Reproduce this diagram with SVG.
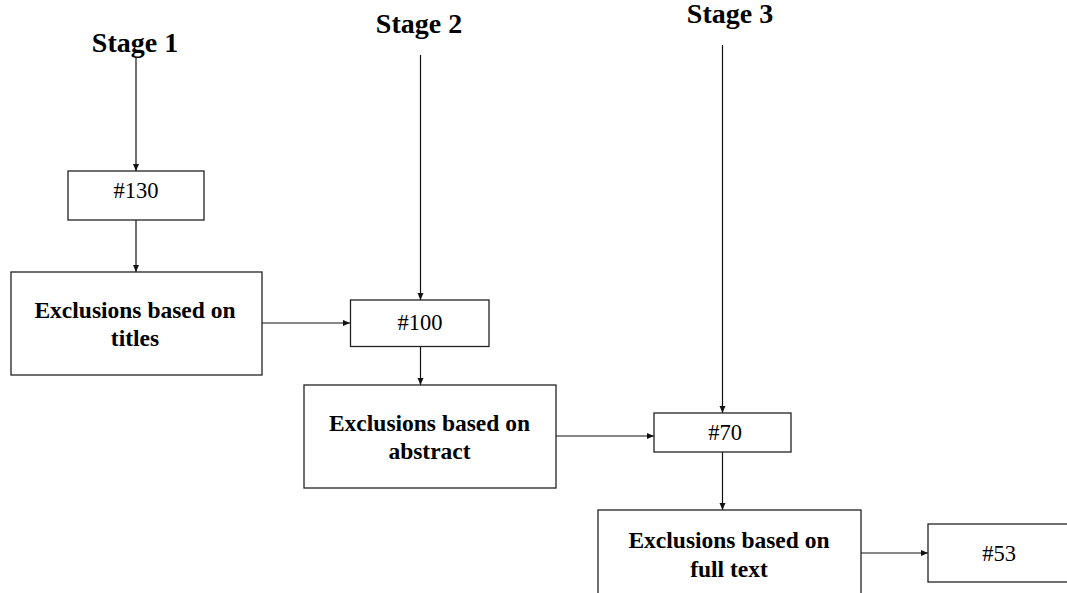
<svg xmlns="http://www.w3.org/2000/svg" width="1067" height="593" viewBox="0 0 1067 593">
<style>
.box{fill:#fff;stroke:#222;stroke-width:1.3}
.con{stroke:#111;stroke-width:1.2;fill:none}
.stage{font-family:"Liberation Serif",serif;font-weight:bold;font-size:28px;fill:#000;text-anchor:middle}
.num{font-family:"Liberation Serif",serif;font-size:22.5px;fill:#000;text-anchor:middle}
.lbl{font-family:"Liberation Serif",serif;font-weight:bold;font-size:23.5px;fill:#000;text-anchor:middle}
</style>
<defs>
<marker id="ah" markerWidth="9" markerHeight="9" refX="7.5" refY="4" orient="auto" markerUnits="userSpaceOnUse">
<path d="M0,0.8 L7.5,4 L0,7.2 Z" fill="#111"/>
</marker>
</defs>
<rect width="1067" height="593" fill="#fff"/>
<g id="stage1"><text class="stage" x="135" y="52">Stage 1</text></g>
<g id="stage2"><text class="stage" x="419" y="33">Stage 2</text></g>
<g id="stage3"><text class="stage" x="730" y="23">Stage 3</text></g>
<g id="connectors">
<line class="con" x1="136" y1="57" x2="136" y2="171" marker-end="url(#ah)"/>
<line class="con" x1="136" y1="220" x2="136" y2="272" marker-end="url(#ah)"/>
<line class="con" x1="262" y1="323" x2="350" y2="323" marker-end="url(#ah)"/>
<line class="con" x1="420.5" y1="55" x2="420.5" y2="300" marker-end="url(#ah)"/>
<line class="con" x1="420.5" y1="347" x2="420.5" y2="385" marker-end="url(#ah)"/>
<line class="con" x1="556" y1="436" x2="654" y2="436" marker-end="url(#ah)"/>
<line class="con" x1="722.5" y1="45" x2="722.5" y2="413" marker-end="url(#ah)"/>
<line class="con" x1="722.5" y1="452" x2="722.5" y2="510" marker-end="url(#ah)"/>
<line class="con" x1="861" y1="553" x2="928" y2="553" marker-end="url(#ah)"/>
</g>
<g id="n130"><rect class="box" x="68" y="171" width="136" height="49"/><text class="num" x="136" y="198">#130</text></g>
<g id="titles"><rect class="box" x="11" y="272" width="251" height="103"/><text class="lbl" x="135" y="318">Exclusions based on</text><text class="lbl" x="135" y="346">titles</text></g>
<g id="n100"><rect class="box" x="350.5" y="300" width="138.5" height="46.5"/><text class="num" x="420" y="330">#100</text></g>
<g id="abstract"><rect class="box" x="304" y="385" width="252" height="103"/><text class="lbl" x="429.5" y="431">Exclusions based on</text><text class="lbl" x="429.5" y="459">abstract</text></g>
<g id="n70"><rect class="box" x="654" y="413" width="137" height="39"/><text class="num" x="725" y="440">#70</text></g>
<g id="fulltext"><rect class="box" x="598" y="510" width="263" height="100"/><text class="lbl" x="729" y="548">Exclusions based on</text><text class="lbl" x="729" y="577">full text</text></g>
<g id="n53"><rect class="box" x="928" y="524" width="150" height="58"/><text class="num" x="999" y="561">#53</text></g>
</svg>
